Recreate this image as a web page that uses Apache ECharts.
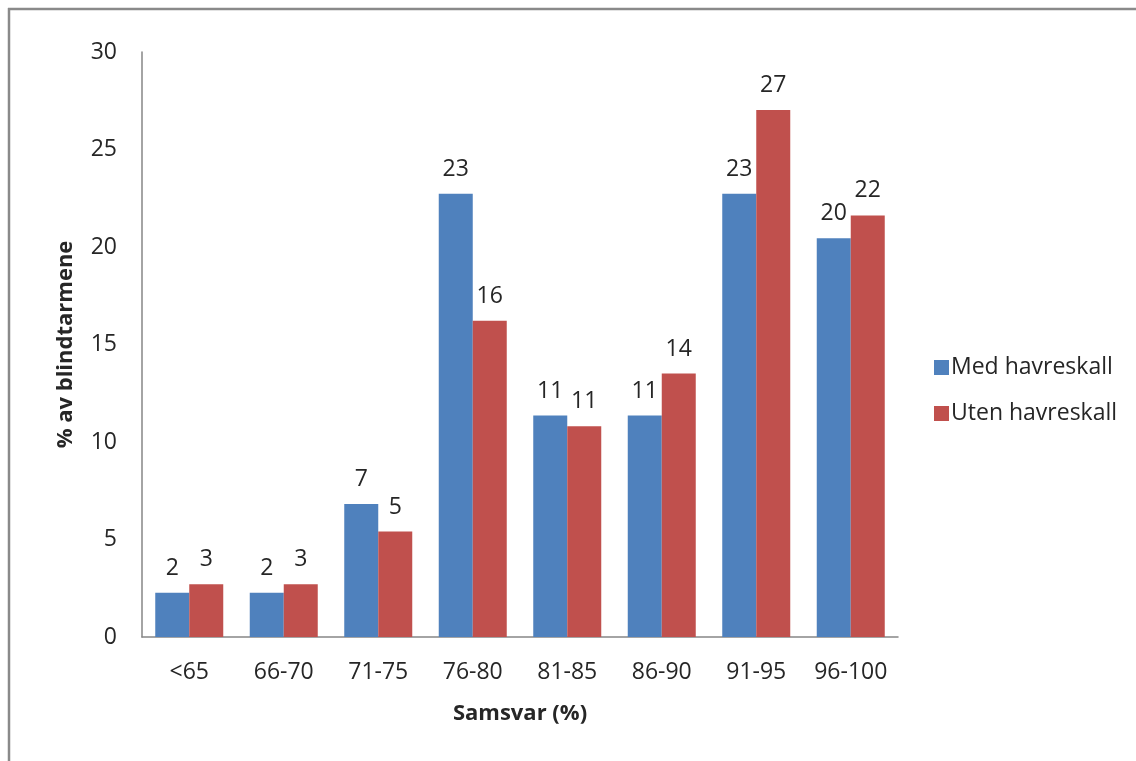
<!DOCTYPE html>
<html>
<head>
<meta charset="utf-8">
<script src="https://cdn.jsdelivr.net/npm/echarts@6/dist/echarts.min.js"></script>
<style>
  html, body { margin: 0; padding: 0; background: #fff; }
  #chart { width: 1136px; height: 761px; }
</style>
</head>
<body>
<div id="chart"></div>
<script>
// Samsvar-klasser (%) og andel blindtarmer i hver klasse
const categories = ['<65', '66-70', '71-75', '76-80', '81-85', '86-90', '91-95', '96-100'];
const medHavreskall = [2.27, 2.27, 6.82, 22.73, 11.36, 11.36, 22.73, 20.45];
const utenHavreskall = [2.70, 2.70, 5.41, 16.22, 10.81, 13.51, 27.03, 21.62];
const seriesNames = ['Med havreskall', 'Uten havreskall'];
const yTicks = { min: 0, max: 30, interval: 5 };

const FONT = '"Open Sans", "Noto Sans", sans-serif';
const TEXT = '#262626';

const chart = echarts.init(document.getElementById('chart'), null, { renderer: 'canvas' });

const labelStyle = {
  show: true,
  position: 'top',
  distance: 13,
  fontFamily: FONT,
  fontSize: 23,
  color: TEXT,
  formatter: p => Math.round(p.value)
};

chart.setOption({
  animation: false,
  backgroundColor: '#fff',
  textStyle: { fontFamily: FONT },
  grid: { left: 142, right: 238, top: 52, bottom: 124, containLabel: false },
  legend: {
    orient: 'vertical',
    left: 929,
    top: 351,
    itemWidth: 15,
    itemHeight: 15,
    itemGap: 23,
    icon: 'rect',
    textStyle: { fontFamily: FONT, fontSize: 23, color: TEXT, padding: [0, 0, 0, -3] },
    data: seriesNames
  },
  xAxis: {
    type: 'category',
    data: categories,
    name: 'Samsvar (%)',
    nameLocation: 'middle',
    nameGap: 66,
    nameTextStyle: { fontFamily: FONT, fontSize: 22, fontWeight: 'bold', color: TEXT },
    axisLine: { lineStyle: { color: '#868686', width: 1.5 } },
    axisTick: { show: false },
    axisLabel: { interval: 0, fontFamily: FONT, fontSize: 23, color: TEXT, margin: 24 }
  },
  yAxis: {
    type: 'value',
    min: yTicks.min,
    max: yTicks.max,
    interval: yTicks.interval,
    name: '% av blindtarmene',
    nameLocation: 'middle',
    nameGap: 65,
    nameRotate: 90,
    nameTextStyle: { fontFamily: FONT, fontSize: 22, fontWeight: 'bold', color: TEXT },
    axisLine: { show: true, lineStyle: { color: '#868686', width: 1.5 } },
    axisTick: { show: false },
    splitLine: { show: false },
    axisLabel: { fontFamily: FONT, fontSize: 23, color: TEXT, margin: 25 }
  },
  series: [
    {
      name: seriesNames[0],
      type: 'bar',
      data: medHavreskall,
      barWidth: 34,
      barGap: '0%',
      itemStyle: { color: '#4F81BD' },
      label: labelStyle
    },
    {
      name: seriesNames[1],
      type: 'bar',
      data: utenHavreskall,
      barWidth: 34,
      barGap: '0%',
      itemStyle: { color: '#C0504D' },
      label: labelStyle
    }
  ],
  graphic: [
    { type: 'line', shape: { x1: 8, y1: 9, x2: 1136, y2: 9 }, style: { stroke: '#8a8a8a', lineWidth: 2.5 } },
    { type: 'line', shape: { x1: 9, y1: 8, x2: 9, y2: 761 }, style: { stroke: '#8a8a8a', lineWidth: 2.5 } }
  ]
});
</script>
</body>
</html>
